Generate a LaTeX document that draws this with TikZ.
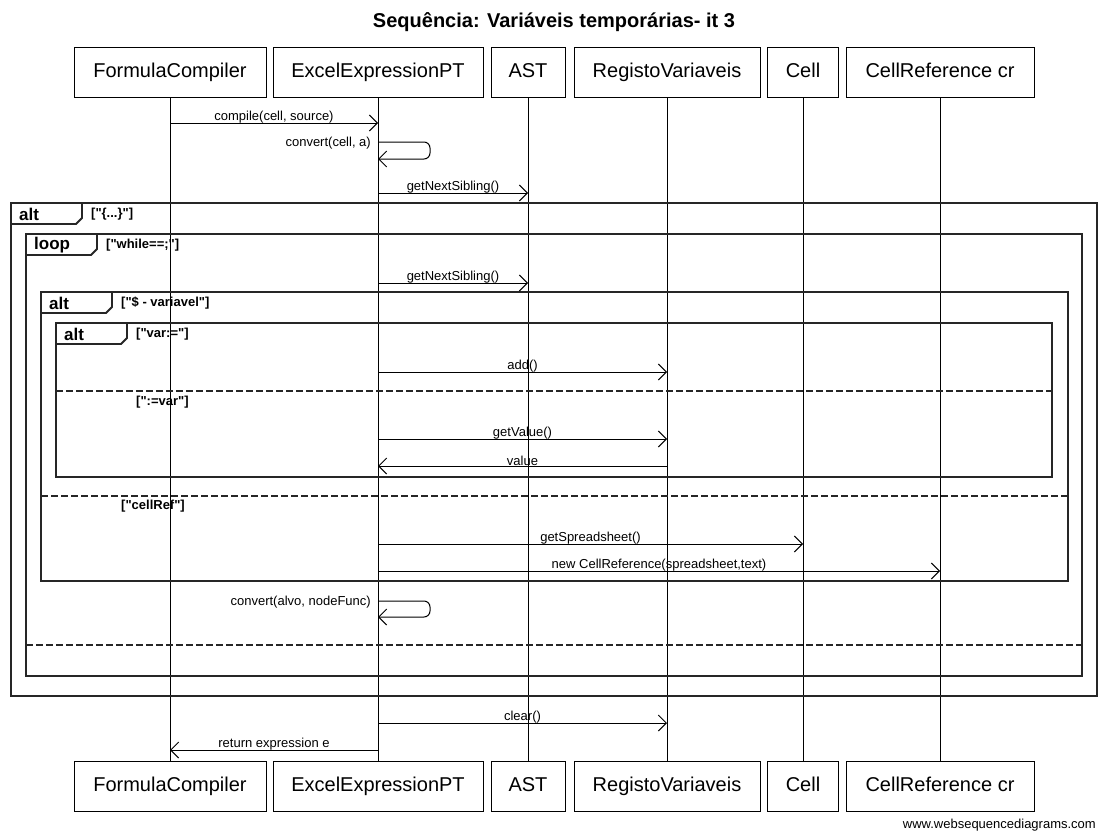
\documentclass[tikz,border=0pt]{standalone}
\usepackage{fontspec}
\setmainfont{Liberation Sans}
\usetikzlibrary{arrows.meta}

\newcommand\q{\textquotedbl}
\newcommand\seqmsg[5]{% name, x1, x2, y, label
  \coordinate (#1s) at (#2,#4);
  \coordinate (#1e) at (#3,#4);
  \draw[msg] (#1s) -- node[lbl] (#1l) {#5} (#1e);}
\newcommand\seqself[4]{% name, y1, y2, label
  \coordinate (#1s) at (378,#2);
  \coordinate (#1e) at (378,#3);
  \draw[msg, rounded corners=6pt] (#1s) -- (430,#2) -- (430,#3) -- (#1e);
  \node[slbl] (#1l) at (372,#2+1.5) {#4};}
\newcommand\seqframe[7]{% name, left, top, right, bottom, tag, guard
  \draw[frameline] (#2,#3) rectangle (#4,#5);
  \draw[frameline] (#2,#3+21) -- (#2+65,#3+21) -- (#2+71,#3+15) -- (#2+71,#3);
  \node[tagtext] (#1t) at (#2+8,#3+11) {#6};
  \node[guardtext] (#1g) at (#2+80,#3+11) {#7};}

\begin{document}
\begin{tikzpicture}[x=1pt,y=-1pt,
  actor/.style={draw, line width=1pt, minimum width=#1, minimum height=50pt,
    inner sep=0pt, text height=14.5pt, text depth=4.5pt, font=\fontsize{20}{24}\selectfont},
  life/.style={line width=1pt},
  msg/.style={line width=1pt, -{Straight Barb[length=8pt,width=16pt,line width=1pt]}},
  lbl/.style={above=-1.5pt, inner sep=1pt, font=\fontsize{13}{15}\selectfont},
  slbl/.style={anchor=east, inner sep=1pt, font=\fontsize{13}{15}\selectfont},
  frameline/.style={line width=1.8pt, draw=black!85},
  sepline/.style={line width=1.8pt, draw=black!85, dash pattern=on 7pt off 3pt},
  tagtext/.style={anchor=west, inner sep=0pt, font=\bfseries\fontsize{17}{20}\selectfont},
  guardtext/.style={anchor=west, inner sep=0pt, font=\bfseries\fontsize{13}{15}\selectfont},
]
\useasboundingbox[fill=white] (0,0) rectangle (1106,833);

\node[font=\bfseries\fontsize{20}{24}\selectfont] (title) at (554,22) {Sequência: Variáveis temporárias- it 3};

% actors top
\node[actor=192pt] (t1) at (170,72) {FormulaCompiler};
\node[actor=210pt] (t2) at (378,72) {ExcelExpressionPT};
\node[actor=74pt]  (t3) at (528,72) {AST};
\node[actor=186pt] (t4) at (667,72) {RegistoVariaveis};
\node[actor=71pt]  (t5) at (803,72) {Cell};
\node[actor=188pt] (t6) at (940,72) {CellReference cr};
% actors bottom
\node[actor=192pt] (b1) at (170,786) {FormulaCompiler};
\node[actor=210pt] (b2) at (378,786) {ExcelExpressionPT};
\node[actor=74pt]  (b3) at (528,786) {AST};
\node[actor=186pt] (b4) at (667,786) {RegistoVariaveis};
\node[actor=71pt]  (b5) at (803,786) {Cell};
\node[actor=188pt] (b6) at (940,786) {CellReference cr};
% lifelines
\foreach \i in {1,...,6} {\draw[life] (t\i.south) -- (b\i.north);}

% frames
\seqframe{fa}{11}{203}{1097}{696}{alt}{[\q\{...\}\q]}
\seqframe{fb}{26}{234}{1082}{676}{loop}{[\q while==;\q]}
\seqframe{fc}{41}{292}{1068}{581}{alt}{[\q\$ - variavel\q]}
\seqframe{fd}{56}{323}{1052}{477}{alt}{[\q var:=\q]}

\draw[sepline] (56,391) -- (1052,391);
\node[guardtext] (gd2) at (136,402) {[\q:=var\q]};
\draw[sepline] (41,496) -- (1068,496);
\node[guardtext] (gc2) at (121,506) {[\q cellRef\q]};
\draw[sepline] (26,645) -- (1082,645);

% messages
\seqmsg{m1}{170}{378}{123}{compile(cell, source)}
\seqself{s1}{142}{159}{convert(cell, a)}
\seqmsg{m2}{378}{528}{193}{getNextSibling()}
\seqmsg{m3}{378}{528}{283}{getNextSibling()}
\seqmsg{m4}{378}{667}{372}{add()}
\seqmsg{m5}{378}{667}{439}{getValue()}
\seqmsg{m6}{667}{378}{466}{value}
\seqmsg{m7}{378}{803}{544}{getSpreadsheet()}
\seqmsg{m8}{378}{940}{571}{new CellReference(spreadsheet,text)}
\seqself{s2}{601}{617}{convert(alvo, nodeFunc)}
\seqmsg{m9}{378}{667}{723}{clear()}
\seqmsg{m10}{378}{170}{750}{return expression e}

\node[anchor=east, inner sep=0pt, font=\fontsize{13}{15}\selectfont] (foot) at (1096,825) {www.websequencediagrams.com};
\end{tikzpicture}
\end{document}
